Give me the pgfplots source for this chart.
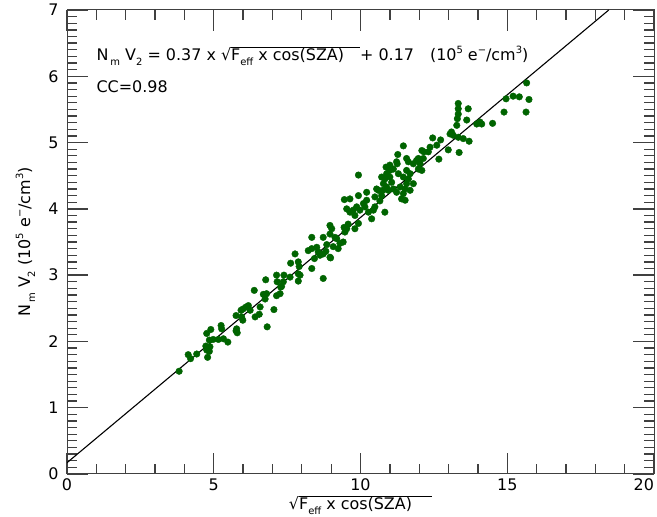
\documentclass[border=0pt]{standalone}
\usepackage{fontspec}
\setmainfont{DejaVu Sans}
\usepackage{pgfplots}
\pgfplotsset{compat=1.18}
\definecolor{dkgreen}{RGB}{0,100,0}
\newcommand\lsub[1]{\raisebox{-5bp}{\fontsize{10}{10}\selectfont #1}}
\newcommand\lsup[1]{\raisebox{7bp}{\fontsize{10}{10}\selectfont #1}}
\newcommand\ovl[1]{\vbox{\hrule height 0.9bp \kern 0.3bp \hbox{#1}}}
\pgfplotstableread{
x y
3.82 1.55
4.13 1.80
4.21 1.74
4.42 1.81
4.79 1.76
4.76 1.87
4.87 1.92
4.73 1.93
4.85 1.85
4.76 2.12
4.90 2.18
4.85 2.02
4.98 2.03
5.16 2.03
5.33 2.04
5.48 1.99
5.25 2.24
5.27 2.19
5.78 2.19
5.80 2.13
5.76 2.16
5.76 2.39
5.93 2.47
6.00 2.49
6.10 2.52
6.18 2.54
5.99 2.32
5.95 2.37
6.24 2.47
6.41 2.37
6.55 2.41
6.58 2.52
6.38 2.77
6.82 2.22
7.05 2.48
6.75 2.64
6.80 2.72
6.69 2.71
6.77 2.93
7.14 2.69
7.26 2.72
7.28 2.82
7.14 3.00
7.39 3.00
7.16 2.90
7.37 2.90
7.31 2.83
7.60 2.97
7.62 3.18
7.88 3.20
7.91 3.13
7.88 3.02
7.94 3.00
7.88 2.91
8.34 3.10
8.73 2.95
8.43 3.25
8.98 3.26
7.77 3.32
8.34 3.57
8.34 3.40
8.51 3.42
8.22 3.37
8.56 3.35
8.62 3.30
8.73 3.32
8.96 3.27
8.82 3.36
8.73 3.57
8.96 3.75
9.02 3.70
8.96 3.62
9.13 3.57
9.19 3.55
9.24 3.40
9.30 3.48
9.41 3.50
9.47 3.65
9.53 3.70
9.44 3.72
9.58 3.77
8.85 3.46
9.07 3.43
9.45 4.14
9.53 4.00
9.64 3.95
9.75 3.98
9.81 3.90
9.87 4.03
9.93 4.20
9.98 3.98
9.93 3.78
9.81 3.70
9.93 4.51
9.64 4.15
10.10 4.08
10.15 4.03
10.21 4.13
10.21 4.25
10.27 3.95
10.38 3.85
10.44 3.98
10.49 4.03
10.49 4.18
10.55 4.30
10.61 4.28
10.66 4.12
10.72 4.20
10.76 4.28
10.78 4.38
10.83 4.45
10.72 4.48
10.89 4.33
10.95 4.28
10.83 3.95
10.89 4.53
11.00 4.48
11.06 4.40
11.12 4.30
11.23 4.25
11.35 4.33
11.40 4.15
11.46 4.23
11.52 4.30
11.57 4.38
11.63 4.45
11.29 4.53
11.23 4.71
11.57 4.76
11.63 4.71
11.80 4.68
11.91 4.73
11.97 4.60
12.03 4.68
12.09 4.58
12.14 4.76
10.87 4.63
11.00 4.66
11.12 4.60
11.46 4.48
11.57 4.58
11.69 4.53
11.80 4.38
11.69 4.28
11.52 4.13
11.46 4.95
11.27 4.82
11.25 4.68
11.00 4.58
11.97 4.76
12.09 4.88
12.16 4.86
12.31 4.86
12.37 4.93
12.60 4.96
12.46 5.07
12.73 5.04
12.67 4.75
12.99 4.89
13.36 4.85
13.05 5.13
13.10 5.16
13.16 5.11
13.33 5.08
13.50 5.06
13.70 5.02
13.33 5.59
13.33 5.51
13.33 5.43
13.30 5.36
13.28 5.26
13.67 5.51
13.62 5.34
13.96 5.28
14.07 5.31
14.13 5.28
14.50 5.29
14.89 5.46
14.96 5.66
15.20 5.70
15.41 5.69
15.64 5.46
15.74 5.65
15.66 5.90
}\pts
\begin{document}
\begin{tikzpicture}
\begin{axis}[
  scale only axis, width=587bp, height=464bp,
  xmin=0, xmax=20, ymin=0, ymax=7,
  xtick={0,5,10,15,20}, ytick={0,1,2,3,4,5,6,7},
  xticklabels={0,5,10,15,\makebox[0pt][r]{20}},
  yticklabels={0,1,2,3,4,5,6,7},
  minor x tick num=4, minor y tick num=9,
  xtick pos=both, ytick pos=both,
  tick align=inside,
  major tick length=21bp, minor tick length=10bp,
  tick style={black!75, line width=1.3bp},
  axis line style={black!75, line width=1bp},
  tick label style={font=\fontsize{16}{16}\selectfont},
  yticklabel style={xshift=-5bp},
  xticklabel style={yshift=-1bp},
  xlabel={√\ovl{F\lsub{eff} x cos(SZA)\hspace{20bp}}},
  xlabel style={at={(axis description cs:0.5,-0.0765)}, anchor=base, font=\fontsize{16}{16}\selectfont},
  ylabel={N\kern2bp\lsub{m} V\lsub{2} (10\lsup{5} e\lsup{−}/cm\lsup{3})},
  ylabel style={at={(axis description cs:-0.063,0.5)}, anchor=base, font=\fontsize{16}{16}\selectfont},
]
\addplot[only marks, mark=*, mark size=3.3bp, color=dkgreen, mark options={draw=dkgreen, fill=dkgreen}] table {\pts};
\addplot[black, line width=1.1bp] coordinates {(0,0.17) (18.459,7)};
\node[anchor=base west, font=\fontsize{16}{16}\selectfont, inner sep=0pt] at (axis cs:1.0,6.24)
  {N\kern2bp\lsub{m} V\lsub{2} = 0.37 x √\ovl{F\lsub{eff} x cos(SZA)\hspace{16bp}}+ 0.17\hspace{16bp}(10\lsup{5} e\lsup{−}/cm\lsup{3})};
\node[anchor=base west, font=\fontsize{16}{16}\selectfont, inner sep=0pt] at (axis cs:1.0,5.76) {CC=0.98};
\coordinate (ll) at (rel axis cs:0,0);
\coordinate (ur) at (rel axis cs:1,1);
\end{axis}
\pgfresetboundingbox
\path ([shift={(-67bp,-43bp)}]ll) rectangle ([shift={(3bp,10bp)}]ur);
\end{tikzpicture}
\end{document}
